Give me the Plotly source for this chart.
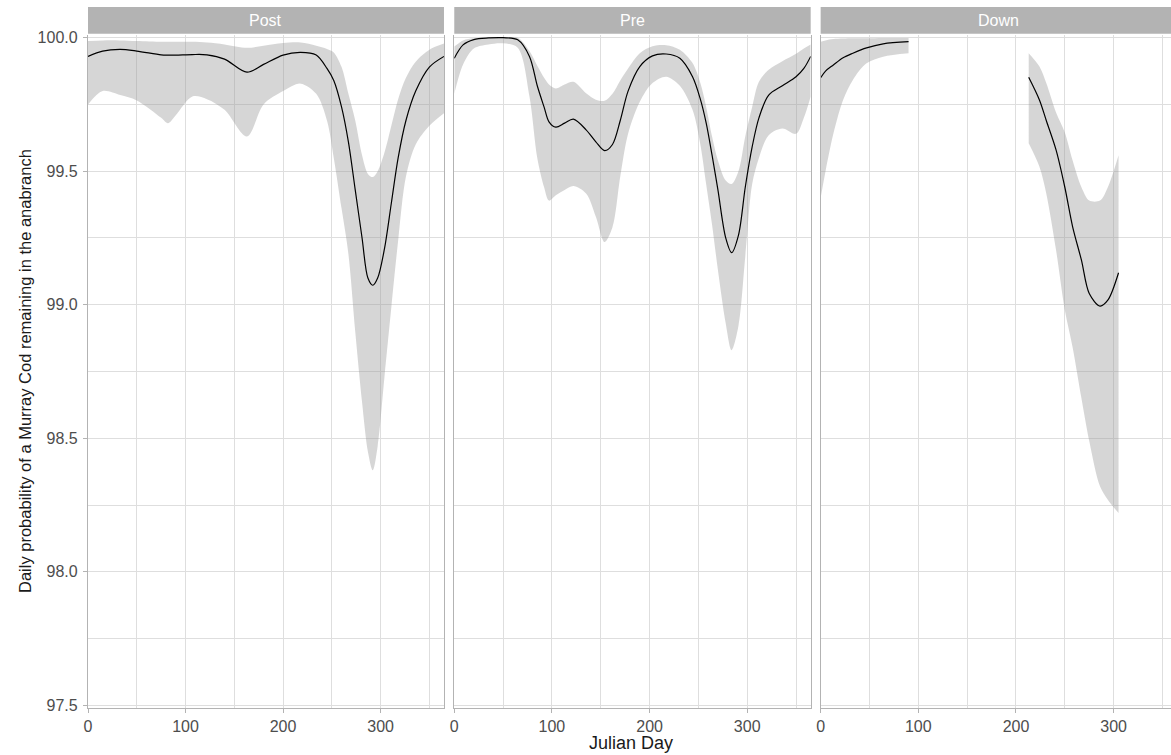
import plotly.graph_objects as go

# ---------------- data ----------------
panels = ["Post", "Pre", "Down"]

post_day = [0, 15, 33, 50, 75, 82, 90, 107, 122, 140, 163, 180, 200, 218, 234, 245, 252, 260, 267,
            274, 281, 287, 292, 297, 304, 311, 318, 326, 336, 350, 365]
post_fit = [99.93, 99.95, 99.956, 99.95, 99.936, 99.935, 99.935, 99.937, 99.936, 99.92, 99.871, 99.90,
            99.935, 99.945, 99.935, 99.885, 99.84, 99.74, 99.61, 99.43, 99.25, 99.10, 99.073, 99.10,
            99.21, 99.38, 99.55, 99.69, 99.80, 99.89, 99.93]
post_upper = [99.988, 99.99, 99.99, 99.988, 99.985, 99.985, 99.985, 99.985, 99.982, 99.975, 99.962,
              99.97, 99.98, 99.982, 99.97, 99.958, 99.945, 99.89, 99.79, 99.69, 99.56, 99.49, 99.478,
              99.50, 99.57, 99.67, 99.77, 99.85, 99.91, 99.955, 99.978]
post_lower = [99.75, 99.80, 99.785, 99.765, 99.70, 99.68, 99.71, 99.78, 99.77, 99.73, 99.63, 99.75,
              99.80, 99.828, 99.79, 99.69, 99.55, 99.36, 99.19, 98.90, 98.635, 98.45, 98.38, 98.47,
              98.73, 98.99, 99.24, 99.48, 99.60, 99.67, 99.717]

pre_day = [0, 9, 20, 35, 50, 65, 77, 85, 92, 97, 104, 113, 122, 135, 145, 154, 162, 170, 178, 190,
           203, 217, 231, 244, 252, 258, 264, 270, 278, 284, 291, 298, 305, 312, 322, 336, 350, 358, 365]
pre_fit = [99.923, 99.973, 99.993, 99.999, 100.0, 99.992, 99.93, 99.82, 99.74, 99.685, 99.665, 99.68,
           99.695, 99.655, 99.61, 99.577, 99.60, 99.69, 99.80, 99.892, 99.932, 99.939, 99.923, 99.854,
           99.77, 99.68, 99.56, 99.43, 99.25, 99.195, 99.26, 99.44, 99.59, 99.70, 99.785, 99.82,
           99.854, 99.885, 99.93]
pre_upper = [99.967, 99.99, 99.998, 100.0, 100.0, 100.0, 99.95, 99.895, 99.85, 99.825, 99.81, 99.825,
             99.835, 99.792, 99.768, 99.764, 99.79, 99.84, 99.885, 99.942, 99.968, 99.972, 99.955,
             99.905, 99.83, 99.74, 99.63, 99.54, 99.465, 99.452, 99.50, 99.63, 99.74, 99.835, 99.88,
             99.912, 99.94, 99.96, 99.975]
pre_lower = [99.79, 99.90, 99.96, 99.975, 99.979, 99.962, 99.78, 99.55, 99.44, 99.39, 99.41, 99.43,
             99.445, 99.417, 99.33, 99.235, 99.29, 99.48, 99.64, 99.76, 99.83, 99.854, 99.82, 99.73,
             99.60, 99.45, 99.30, 99.13, 98.93, 98.83, 98.92, 99.18, 99.45, 99.55, 99.635, 99.66,
             99.64, 99.70, 99.78]

down1_day = [0, 5, 13, 23, 33, 47, 64, 90]
down1_fit = [99.85, 99.875, 99.898, 99.925, 99.942, 99.962, 99.977, 99.985]
down1_upper = [99.985, 99.99, 99.995, 99.997, 99.998, 99.998, 99.999, 99.999]
down1_lower = [99.40, 99.50, 99.64, 99.767, 99.842, 99.904, 99.929, 99.942]

down2_day = [213, 224, 231, 241, 250, 258, 267, 275, 286, 294, 305]
down2_fit = [99.852, 99.767, 99.69, 99.58, 99.44, 99.292, 99.167, 99.042, 98.995, 99.017, 99.12]
down2_upper = [99.942, 99.892, 99.83, 99.72, 99.645, 99.54, 99.44, 99.39, 99.39, 99.44, 99.56]
down2_lower = [99.605, 99.517, 99.417, 99.205, 98.98, 98.84, 98.65, 98.49, 98.32, 98.27, 98.22]

x_ticks = [0, 100, 200, 300]
y_ticks = [97.5, 98.0, 98.5, 99.0, 99.5, 100.0]
y_tick_text = ["97.5", "98.0", "98.5", "99.0", "99.5", "100.0"]

y_title = "Daily probability of a Murray Cod remaining in the anabranch"
x_title = "Julian Day"

# ---------------- styling ----------------
FONT = "Liberation Sans, Arial, sans-serif"
GRID = "#dedede"
BORDER = "#b3b3b3"
RIBBON = "rgba(153,153,153,0.40)"

panel_series = {
    "Post": [(post_day, post_fit, post_upper, post_lower)],
    "Pre": [(pre_day, pre_fit, pre_upper, pre_lower)],
    "Down": [(down1_day, down1_fit, down1_upper, down1_lower),
             (down2_day, down2_fit, down2_upper, down2_lower)],
}

fig = go.Figure()
for i, name in enumerate(panels):
    ax = "" if i == 0 else str(i + 1)
    for d, f, u, l in panel_series[name]:
        fig.add_trace(go.Scatter(x=d, y=l, mode="lines", line=dict(width=0, shape="spline", smoothing=0.9),
                                 xaxis="x" + ax, yaxis="y" + ax, showlegend=False, hoverinfo="skip"))
        fig.add_trace(go.Scatter(x=d, y=u, mode="lines", line=dict(width=0, shape="spline", smoothing=0.9),
                                 fill="tonexty", fillcolor=RIBBON,
                                 xaxis="x" + ax, yaxis="y" + ax, showlegend=False, hoverinfo="skip"))
        fig.add_trace(go.Scatter(x=d, y=f, mode="lines",
                                 line=dict(color="black", width=1.2, shape="spline", smoothing=0.9),
                                 xaxis="x" + ax, yaxis="y" + ax, showlegend=False))

W, H = 1171, 755
ML, MR, MT, MB = 88, 0, 7, 47
PW = W - ML - MR
PH = H - MT - MB
panel_top_px = 34.5
y_dom_top = (H - MB - panel_top_px) / PH

x_domains = [[0.0, 0.3287], [0.3382, 0.6673], [0.6765, 1.0]]
x_ranges = [[0, 365], [0, 365], [0, 358.7]]
y_range = [97.49, 100.012]

layout = dict(
    width=W, height=H,
    margin=dict(l=ML, r=MR, t=MT, b=MB, autoexpand=False),
    paper_bgcolor="white", plot_bgcolor="white",
    font=dict(family=FONT, color="#4d4d4d", size=16),
    showlegend=False,
)

shapes = []
annotations = []
for i, name in enumerate(panels):
    ax = "" if i == 0 else str(i + 1)
    layout["xaxis" + ax] = dict(
        domain=x_domains[i], range=x_ranges[i], anchor="y" + ax,
        tickmode="array", tickvals=x_ticks, ticktext=[str(t) for t in x_ticks],
        ticks="outside", ticklen=4, tickcolor=BORDER, tickwidth=1,
        showgrid=True, gridcolor=GRID, gridwidth=1,
        minor=dict(dtick=50, tick0=0, showgrid=True, gridcolor=GRID, gridwidth=1),
        showline=True, linecolor=BORDER, linewidth=1.3, mirror=False,
        zeroline=False, tickfont=dict(size=16, color="#4d4d4d", family=FONT),
    )
    layout["yaxis" + ax] = dict(
        domain=[0, y_dom_top], range=y_range, anchor="x" + ax,
        tickmode="array", tickvals=y_ticks, ticktext=y_tick_text,
        showticklabels=(i == 0),
        ticks="outside" if i == 0 else "", ticklen=4, tickcolor=BORDER, tickwidth=1,
        ticklabelstandoff=2,
        showgrid=True, gridcolor=GRID, gridwidth=1,
        minor=dict(dtick=0.25, tick0=97.5, showgrid=True, gridcolor=GRID, gridwidth=1),
        showline=True, linecolor=BORDER, linewidth=1.3, mirror=(i < 2),
        zeroline=False, tickfont=dict(size=16, color="#4d4d4d", family=FONT),
    )
    # strip
    shapes.append(dict(type="rect", xref="x" + ax + " domain", yref="paper",
                       x0=0, x1=1, y0=y_dom_top + 0.8 / PH, y1=1.0,
                       fillcolor="#b3b3b3", line=dict(width=0), layer="above"))
    annotations.append(dict(text=name, xref="x" + ax + " domain", yref="paper",
                            x=0.5 if i < 2 else 0.5 * 356.4 / 350.3, y=(1.0 + y_dom_top) / 2,
                            xanchor="center", yanchor="middle", showarrow=False,
                            font=dict(color="white", size=16, family=FONT)))

annotations.append(dict(text=y_title, xref="paper", yref="paper",
                        x=(25 - ML) / PW, y=(H - MB - 371) / PH, textangle=-90,
                        xanchor="center", yanchor="middle", showarrow=False,
                        font=dict(size=16.5, color="#1a1a1a", family=FONT)))
annotations.append(dict(text=x_title, xref="paper", yref="paper",
                        x=(631 - ML) / PW, y=(H - MB - 743) / PH,
                        xanchor="center", yanchor="middle", showarrow=False,
                        font=dict(size=18, color="#1a1a1a", family=FONT)))

layout["shapes"] = shapes
layout["annotations"] = annotations
fig.update_layout(**layout)

fig.write_html("out.html", config={"displayModeBar": False},
               post_script="document.body.style.margin='0';document.body.style.overflow='hidden';")
